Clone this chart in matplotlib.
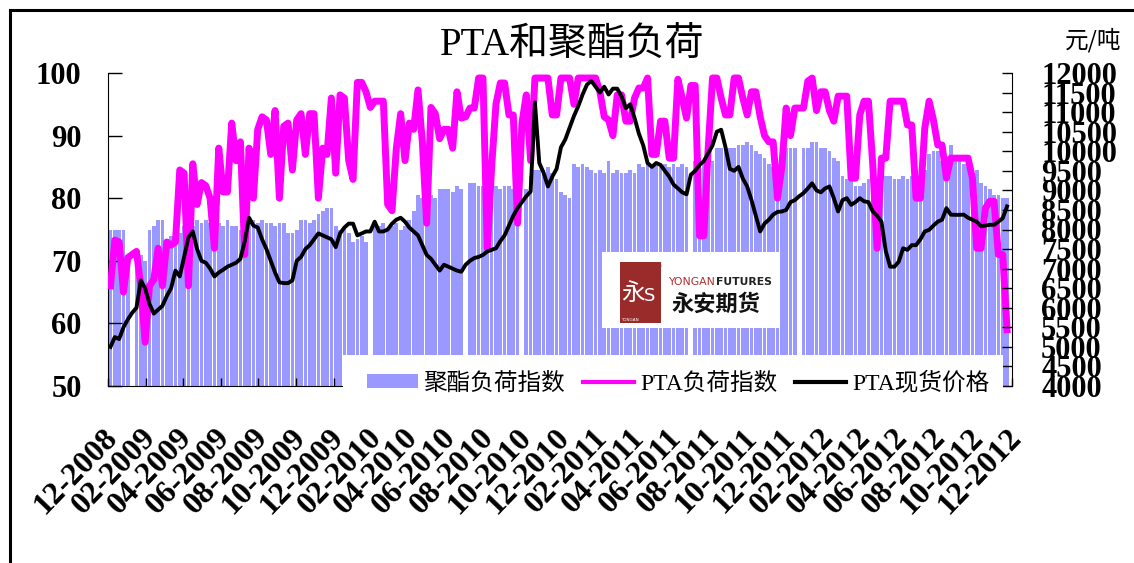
import numpy as np
import pandas as pd
import matplotlib
matplotlib.use("Agg")
import matplotlib.pyplot as plt
import matplotlib.transforms as mtransforms
from matplotlib.patches import Rectangle, Patch
from matplotlib.lines import Line2D

nan = np.nan
W, H = 1134, 563

# weekly data, first week ending 2008-12-05
start_date = "2008-12-05"

# 聚酯负荷指数 (left axis, bars)
polyester_load = [
    75, 75, 75, 75, 71, nan, 71, 71, 70, 75,
    75.5, 76.5, 76.5, 73.5, 74, 73.5, 74.5, 75.5, 75.5, 75.5,
    76.5, 76, 76.5, 76, 76.5, 76, 75.5, 76.5, 75.5, 75.5,
    75, 76.5, 76, 76.5, 76, 76.5, 76, 76, 75.5, 76,
    76, 74.5, 74.5, 75, 76.5, 76.5, 76, 76.5, 77.5, 78,
    78.5, 78.5, 75.5, 75, 75.5, 74.5, 73, 73.5, 74, 73,
    nan, 76, 75.5, 76, 75, 75.5, 76, 75, 75.5, 76.5,
    78, 80.5, 80, 80, 80.5, 80, 81.5, 81.5, 81.5, 81,
    82, 81.5, nan, 82.5, 82.5, 82, 82, 82.5, 82, 82,
    81.5, 82, 82, 81.5, 81, nan, 81.5, 83.5, 84.5, 84.5,
    84.5, 85, 84, 83, 81, 80.5, 80, 85.5, 85, 85.5,
    85, 84.5, 84, 84.5, 84, 86, 84, 84.5, 84, 84,
    84.5, 84, 85.5, 85, 85.5, 85, 85.5, 85, 85.5, 85,
    85.5, 85, 85.5, 85, nan, 86, 86.5, 86, 86.5, 86,
    88, 88, 88.5, 88, 88, 88.5, 88.5, 89, 88.5, 87.5,
    87, 86.5, 85.5, 85, 85, 86.5, 88, 88, 88, nan,
    88, 88, 89, 89, 88, 88, 87.5, 86.5, 86, 83.5,
    83, 83, 82, 82, 82.5, 83, 83.5, 83, 83, 83.5,
    83.5, 83, 83, 83.5, 83, 83.5, 84.5, 85, 84.5, 87,
    87.5, 87.5, 86, 86, 88.5, 86, 86, 85.5, 85, 84.5,
    84.5, 82.5, 82, 81.5, 80.5, 80.5, 80, 80,
]

# PTA负荷指数 (left axis, magenta line)
pta_load = [
    66, 73.3, 73, 65, 70.5, 71, 71.5, 66, 57, 66,
    67, 72, 66, 73, 72.5, 73, 84.5, 84, 66, 85.5,
    79, 82.5, 82, 80, 72, 88, 81, 81, 92, 86,
    89, 71, 88, 80, 91, 93, 92.5, 87, 94, 80,
    91.5, 92, 84.5, 92.5, 93.5, 87, 93.5, 93.5, 80, 88,
    87, 96, 84, 96.5, 96, 86, 83, 98.5, 98.5, 97,
    94.5, 95.5, 95.5, 95.5, 79, 78, 88, 93.5, 86, 92,
    91, 97.3, 89, 76, 94.5, 93.5, 89.5, 91, 91, 88,
    97, 92.8, 93, 94.4, 94.4, 99.2, 99.2, 72, 85, 95,
    98.4, 98.4, 93.3, 93.3, 76, 92, 96.5, 86, 99.2, 99.2,
    99.2, 99.2, 93.3, 93.3, 99.2, 99.2, 99.2, 95, 99.2, 99.2,
    99.2, 99.2, 99.2, 97, 93, 92.5, 90, 96.5, 96.5, 92.3,
    92.3, 96, 97.6, 97.6, 99.2, 87, 87, 92.3, 92.3, 86.4,
    86.4, 99, 96, 92.8, 98, 98, 74, 74, 88, 99.2,
    99.2, 96, 93.3, 93.3, 99.2, 99.2, 96, 93.3, 97, 97,
    93, 90, 89, 89, 80, 85, 94.4, 90, 94.4, 94.4,
    94.4, 98.7, 99.2, 94, 97, 97, 94, 92.3, 96.3, 96.3,
    96.3, 83.2, 83.2, 93.3, 95.5, 95.5, 85.3, 72, 86.4, 86.4,
    95.5, 95.5, 95.5, 95.5, 91.7, 91.7, 80, 80, 91.2, 95.5,
    92.5, 88.5, 88.5, 83.2, 86.4, 86.4, 86.4, 86.4, 86.4, 83.2,
    72, 72, 78.4, 79.5, 79.5, 71, 71, 59,
]

# PTA现货价格 (right axis, 元/吨)
pta_price = [
    5000, 5250, 5200, 5500, 5700, 5870, 6000, 6700, 6500, 6100,
    5850, 5950, 6050, 6300, 6500, 6950, 6800, 7300, 7800, 7950,
    7500, 7200, 7150, 7000, 6800, 6900, 6970, 7050, 7100, 7150,
    7250, 7700, 8300, 8100, 8050, 7750, 7500, 7200, 6900, 6650,
    6630, 6630, 6700, 7200, 7300, 7500, 7600, 7750, 7900, 7850,
    7800, 7750, 7550, 7900, 8050, 8150, 8150, 7850, 7900, 7950,
    7950, 8200, 7950, 7950, 8000, 8150, 8250, 8300, 8200, 8050,
    7950, 7850, 7600, 7350, 7250, 7100, 6950, 7100, 7050, 7000,
    6950, 6920, 7100, 7200, 7270, 7300, 7350, 7440, 7480, 7520,
    7700, 7850, 8100, 8350, 8550, 8700, 8850, 8970, 11250, 9700,
    9450, 9100, 9350, 9550, 10100, 10300, 10600, 10900, 11150, 11450,
    11700, 11800, 11650, 11500, 11650, 11450, 11600, 11600, 11400, 11100,
    11200, 10850, 10450, 10150, 9700, 9600, 9700, 9650, 9500, 9350,
    9150, 9050, 8950, 8900, 9400, 9500, 9650, 9750, 9950, 10150,
    10500, 10550, 10100, 9550, 9500, 9600, 9300, 9100, 8750, 8350,
    7950, 8150, 8250, 8380, 8450, 8460, 8500, 8700, 8750, 8850,
    8930, 9050, 9180, 9000, 8950, 9050, 9100, 8800, 8460, 8750,
    8800, 8630, 8700, 8800, 8720, 8700, 8460, 8350, 8200, 7450,
    7050, 7050, 7180, 7520, 7480, 7600, 7600, 7750, 7950, 7990,
    8100, 8200, 8250, 8545, 8380, 8375, 8375, 8380, 8300, 8250,
    8200, 8080, 8100, 8120, 8120, 8200, 8290, 8590,
]

tick_labels = [
    "12-2008", "02-2009", "04-2009", "06-2009", "08-2009", "10-2009",
    "12-2009", "02-2010", "04-2010", "06-2010", "08-2010", "10-2010",
    "12-2010", "02-2011", "04-2011", "06-2011", "08-2011", "10-2011",
    "12-2011", "02-2012", "04-2012", "06-2012", "08-2012", "10-2012",
    "12-2012",
]
left_ticks = [50, 60, 70, 80, 90, 100]
right_ticks = list(range(4000, 12001, 500))

BAR_COLOR = "#9999FF"
PINK = "#FF00FF"

plt.rcParams["font.family"] = ["Liberation Serif", "Noto Sans CJK SC", "DejaVu Sans"]


def fx(px):
    return px / W


def fy(py):
    return 1 - py / H


dates = pd.date_range(start_date, periods=len(polyester_load), freq="7D")
tick_pos = pd.to_datetime(tick_labels, format="%m-%Y")

fig = plt.figure(figsize=(W / 100, H / 100), dpi=100)
fig.patch.set_facecolor("white")

ax = fig.add_axes([fx(108), fy(386), (1012 - 108) / W, (386 - 73) / H])
ax2 = ax.twinx()

ax.bar(dates, polyester_load, width=6, color=BAR_COLOR, linewidth=0, zorder=1)
ax.plot(dates, pta_load, color=PINK, lw=5, solid_joinstyle="round", zorder=3)
ax2.plot(dates, pta_price, color="black", lw=2.8, solid_joinstyle="round")

ax.set_ylim(50, 100)
ax2.set_ylim(4000, 12000)
ax.set_xlim(pd.Timestamp("2008-12-01"), pd.Timestamp("2012-12-01"))

ax.set_yticks(left_ticks)
ax2.set_yticks(right_ticks)
ax.set_xticks(tick_pos)
ax.set_xticklabels(tick_labels, rotation=46, ha="right", va="center",
                   rotation_mode="anchor")

ax.tick_params(axis="y", direction="in", length=10, width=1, pad=19, labelsize=22)
ax2.tick_params(axis="y", direction="in", length=7, width=1, pad=21, labelsize=22)
ax.tick_params(axis="x", direction="in", length=6, width=1, pad=34, labelsize=23)
shift = mtransforms.ScaledTranslation(5 / 100, 0, fig.dpi_scale_trans)
for lbl in ax.get_xticklabels():
    lbl.set_transform(lbl.get_transform() + shift)
for lbl in ax.get_yticklabels() + ax2.get_yticklabels() + ax.get_xticklabels():
    lbl.set_fontweight("bold")
    lbl.set_family("Liberation Serif")

for a in (ax, ax2):
    a.spines["top"].set_visible(False)
ax.spines["right"].set_visible(False)
ax2.spines["left"].set_visible(False)
ax2.spines["bottom"].set_visible(False)
ax.set_facecolor("none")
ax2.patch.set_visible(False)

# white legend area covering the bars
fig.add_artist(Rectangle((fx(343), fy(402)), fx(1003) - fx(343), fy(355) - fy(402),
                         transform=fig.transFigure, facecolor="white",
                         edgecolor="none", zorder=5))

handles = [
    Patch(facecolor=BAR_COLOR, edgecolor="none"),
    Line2D([], [], color=PINK, lw=3),
    Line2D([], [], color="black", lw=3),
]
labels = ["聚酯负荷指数", "PTA负荷指数", "PTA现货价格"]
leg = fig.legend(handles, labels, loc="center", bbox_to_anchor=(fx(678), fy(383)),
                 ncol=3, frameon=False, fontsize=17, handlelength=2.16,
                 handleheight=0.55, handletextpad=0.25, columnspacing=0.76,
                 borderpad=0, borderaxespad=0)
leg.set_zorder(6)

# company logo box
fig.add_artist(Rectangle((fx(602), fy(328)), fx(779) - fx(602), fy(252) - fy(328),
                         transform=fig.transFigure, facecolor="white",
                         edgecolor="none", zorder=5))
fig.add_artist(Rectangle((fx(620), fy(323)), fx(661) - fx(620), fy(262) - fy(323),
                         transform=fig.transFigure, facecolor="#9A2B2B",
                         edgecolor="none", zorder=6))
fig.text(fx(633), fy(294), "永", color="white", fontsize=17, ha="center", va="center",
         family=["Noto Sans CJK SC"], zorder=7)
fig.text(fx(650), fy(296), "S", color="white", fontsize=13, ha="center", va="center",
         family=["DejaVu Sans"], zorder=7)
fig.text(fx(653), fy(266), "FUTURES", color="#9A2B2B", fontsize=3, ha="center",
         va="center", family=["DejaVu Sans"], zorder=7)
fig.text(fx(630), fy(320), "YONGAN", color="white", fontsize=3, ha="center",
         va="center", family=["DejaVu Sans"], zorder=7)
fig.text(fx(668), fy(282), "YONGAN", color="#B03030", fontsize=7.8, ha="left",
         va="center", family=["DejaVu Sans"], zorder=7)
fig.text(fx(716), fy(282), "FUTURES", color="#222222", fontsize=7.8, ha="left",
         va="center", family=["DejaVu Sans"], weight="bold", zorder=7)
fig.text(fx(716), fy(304), "永安期货", color="#111111", fontsize=16, ha="center",
         va="center", family=["Noto Sans CJK SC"], weight="bold", zorder=7)

# title and unit
fig.text(fx(572), fy(46), "PTA和聚酯负荷", fontsize=28, ha="center", va="center",
         family=["Liberation Serif", "Noto Sans CJK SC"])
fig.text(fx(1093), fy(40), "元/吨", fontsize=17, ha="center", va="center",
         family=["Noto Sans CJK SC"])

# outer frame (top and left edges visible)
fig.add_artist(Line2D([fx(9.5), 1], [fy(9.5), fy(9.5)], transform=fig.transFigure,
                      color="black", lw=2.2))
fig.add_artist(Line2D([fx(9.5), fx(9.5)], [fy(9.5), 0], transform=fig.transFigure,
                      color="black", lw=2.2))

fig.savefig("out.png", dpi=100)
